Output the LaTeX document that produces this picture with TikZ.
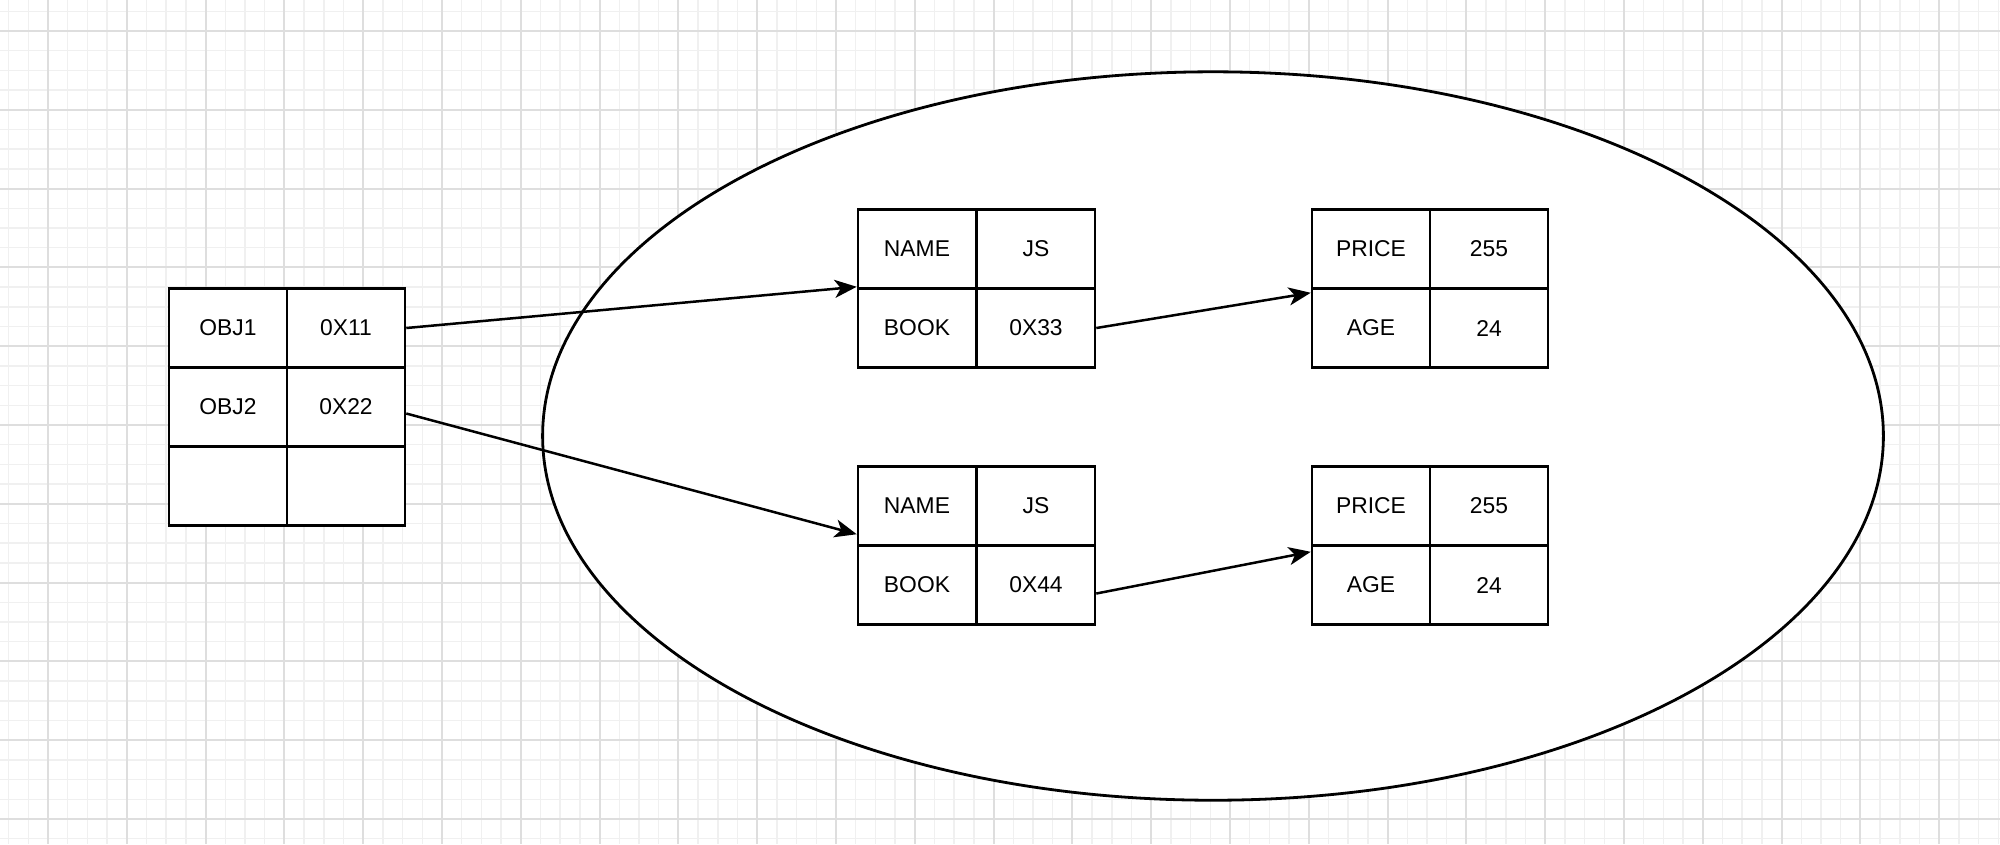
\documentclass[tikz,border=0pt]{standalone}
\usepackage{fontspec}
\setmainfont{Liberation Sans}
\usetikzlibrary{arrows.meta}

\tikzset{
  cell/.style={draw=black, fill=white, line width=0.25mm, minimum width=1.18cm,
    minimum height=0.79cm, inner sep=0pt, font=\fontsize{6.5}{8}\selectfont},
  link/.style={line width=0.25mm, -{Stealth[length=2.2mm,width=1.8mm,inset=0.6mm]}},
  minorline/.style={draw=black!6, line width=0.15mm},
  majorline/.style={draw=black!13, line width=0.2mm},
}

\begin{document}
\begin{tikzpicture}[x=0.01cm, y=-0.01cm]
    \useasboundingbox[fill=white] (0,0) rectangle (2000,844);
    % background grid
    \foreach \i in {0,...,101} \draw[minorline] ({8.6+19.7*\i},0) -- ++(0,844);
    \foreach \j in {0,...,42} \draw[minorline] (0,{11.3+19.7*\j}) -- ++(2000,0);
    \foreach \i in {0,...,24} \draw[majorline] ({48+78.8*\i},0) -- ++(0,844);
    \foreach \j in {0,...,10} \draw[majorline] (0,{31+78.8*\j}) -- ++(2000,0);

    % heap
    \draw[line width=0.28mm, fill=white] (1213,436) ellipse [x radius=6.70cm, y radius=3.64cm];

    % stack table
    \node[cell] (o1k) at (228,328) {OBJ1};
    \node[cell] (o1v) at (346,328) {0X11};
    \node[cell] (o2k) at (228,407) {OBJ2};
    \node[cell] (o2v) at (346,407) {0X22};
    \node[cell] (o3k) at (228,486) {};
    \node[cell] (o3v) at (346,486) {};

    % first object
    \node[cell] (n1k) at (917,249) {NAME};
    \node[cell] (n1v) at (1036,249) {JS};
    \node[cell] (b1k) at (917,328) {BOOK};
    \node[cell] (b1v) at (1036,328) {0X33};

    % second object
    \node[cell] (n2k) at (917,506) {NAME};
    \node[cell] (n2v) at (1036,506) {JS};
    \node[cell] (b2k) at (917,585) {BOOK};
    \node[cell] (b2v) at (1036,585) {0X44};

    % first book
    \node[cell] (p1k) at (1371,249) {PRICE};
    \node[cell] (p1v) at (1489,249) {255};
    \node[cell] (a1k) at (1371,328) {AGE};
    \node[cell] (a1v) at (1489,328) {24};

    % second book
    \node[cell] (p2k) at (1371,506) {PRICE};
    \node[cell] (p2v) at (1489,506) {255};
    \node[cell] (a2k) at (1371,585) {AGE};
    \node[cell] (a2v) at (1489,585) {24};

    % references
    \draw[link] (o1v.east) -- ([yshift=0.3mm]n1k.south west);
    \draw[link] ([yshift=-0.65mm]o2v.east) -- ([yshift=1mm]b2k.north west);
    \draw[link] (b1v.east) -- ([yshift=-0.3mm]p1k.south west);
    \draw[link] ([yshift=-0.85mm]b2v.east) -- ([yshift=-0.5mm]p2k.south west);
\end{tikzpicture}
\end{document}
